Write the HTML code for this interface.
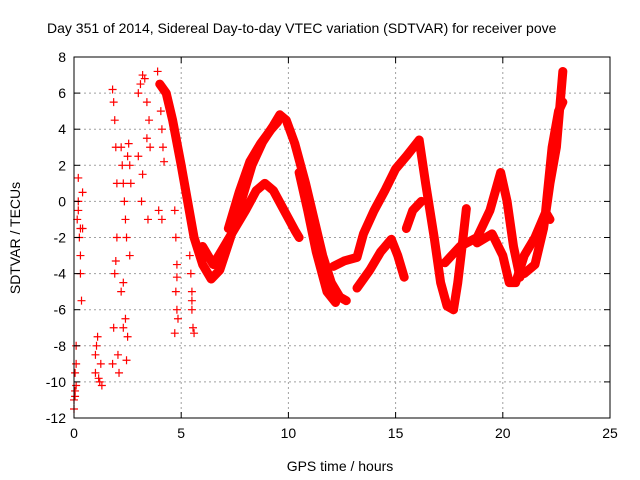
<!DOCTYPE html>
<html><head><meta charset="utf-8"><style>
body{margin:0;background:#fff}
svg{display:block;font-family:"Liberation Sans",sans-serif}
</style></head><body>
<svg id="chart" width="640" height="480" viewBox="0 0 640 480">
<text x="47" y="33" font-size="14">Day 351 of 2014, Sidereal Day-to-day VTEC variation (SDTVAR) for receiver pove</text>
<text x="340" y="471" font-size="14" text-anchor="middle">GPS time / hours</text>
<text transform="translate(20,238) rotate(-90)" font-size="14" text-anchor="middle">SDTVAR / TECUs</text>
<g id="grid"></g><g id="marks"></g><g id="axes"></g>
</svg>
<script>
const xTicks=[0,5,10,15,20,25];
const yTicks=[-12,-10,-8,-6,-4,-2,0,2,4,6,8];
const trackA_t=[4.0,4.3,4.6,5.0,5.3,5.6,6.0,6.4,6.8,7.3,7.8,8.3,8.8,9.3,9.6,9.9,10.3,10.8,11.2,11.6,12.0,12.4,12.7];
const trackA_v=[6.5,6.0,4.5,2.0,0.0,-2.0,-3.5,-4.3,-3.8,-2.0,0.0,2.0,3.3,4.2,4.8,4.5,3.2,1.0,-1.0,-3.0,-4.5,-5.3,-5.5];
const trackB_t=[6.0,6.5,7.0,7.5,8.0,8.5,8.9,9.3,9.8,10.3,10.5];
const trackB_v=[-2.5,-3.5,-2.5,-1.5,-0.5,0.6,1.0,0.6,-0.5,-1.6,-2.0];
const trackC_t=[7.2,7.7,8.2,8.7,9.2,9.5];
const trackC_v=[-1.5,0.5,2.2,3.2,4.0,4.4];
const trackD_t=[10.5,10.9,11.3,11.8,12.2];
const trackD_v=[1.6,-0.5,-2.8,-5.0,-5.6];
const trackE_t=[12.1,12.6,13.2,13.5,14.0,14.5,15.0,15.5,16.1,16.4,16.8,17.1,17.4,17.7];
const trackE_v=[-3.6,-3.3,-3.1,-1.8,-0.5,0.6,1.8,2.5,3.4,1.0,-2.0,-4.5,-5.8,-6.0];
const trackF_t=[13.2,13.8,14.3,14.8,15.1,15.4];
const trackF_v=[-4.8,-3.8,-2.8,-2.1,-3.0,-4.2];
const trackG_t=[15.5,15.8,16.2];
const trackG_v=[-1.5,-0.5,0.0];
const trackH_t=[17.7,17.9,18.1,18.3];
const trackH_v=[-6.0,-4.5,-2.5,-0.4];
const trackI_t=[17.3,18.0,18.8,19.4,19.9,20.2,20.5,20.8];
const trackI_v=[-3.4,-2.5,-2.0,-0.5,1.6,0.0,-2.5,-4.2];
const trackJ_t=[18.8,19.5,20.0,20.3,20.6,21.0,21.5,22.0,22.2];
const trackJ_v=[-2.3,-1.8,-3.0,-4.5,-4.5,-3.0,-2.0,-0.6,-1.0];
const trackK_t=[21.0,21.5,21.9,22.2,22.5,22.8];
const trackK_v=[-4.0,-3.5,-1.5,1.0,3.0,7.2];
const trackL_t=[22.0,22.3,22.6,22.8];
const trackL_v=[-0.5,3.0,5.0,5.5];
const scatter_t=[0.0,0.05,0.1,0.1,0.15,0.2,0.2,0.25,0.3,0.3,0.35,0.4,0.4,0.05,0.1,1.0,1.05,1.1,1.15,1.2,1.25,1.0,1.3,1.8,1.85,1.9,1.95,2.0,2.0,1.9,1.85,2.05,2.1,1.8,1.95,2.2,2.25,2.3,2.35,2.4,2.45,2.5,2.55,2.6,2.65,2.3,2.4,2.5,2.45,2.6,2.2,2.3,3.0,3.1,3.2,3.3,3.4,3.5,3.55,3.0,3.2,3.4,3.15,3.45,3.9,4.0,4.05,4.1,4.15,4.2,3.95,4.1,4.7,4.75,4.8,4.75,4.8,4.7,4.85,4.8,5.4,5.45,5.5,5.5,5.55,5.6,5.5,0.0,0.05,0.2,0.3];
const scatter_v=[-11.0,-10.5,-9.0,-8.0,-1.0,0.0,1.3,-2.0,-3.0,-4.0,-5.5,-1.5,0.5,-10.8,-10.2,-9.5,-8.0,-7.5,-9.8,-10.0,-9.0,-8.5,-10.2,6.2,5.5,4.5,3.0,1.0,-2.0,-4.0,-7.0,-8.5,-9.5,-9.0,-3.3,3.0,2.0,1.0,0.0,-1.0,-2.0,2.5,3.2,2.0,1.0,-4.5,-6.5,-7.5,-8.8,-3.0,-5.0,-7.0,6.0,6.5,7.0,6.8,5.5,4.5,3.0,2.5,1.5,3.5,0.0,-1.0,7.2,6.5,5.0,4.0,3.0,2.2,-0.5,-1.0,-0.5,-2.0,-3.5,-5.0,-6.0,-7.3,-6.5,-4.2,-3.0,-4.0,-5.0,-6.0,-7.0,-7.3,-5.5,-11.5,-9.5,-0.5,-1.5];

const L=74,R=610,T=57,B=418;
const xs=t=>L+(t-0)/(25-0)*(R-L);
const ys=v=>B-(v-(-12))/(8-(-12))*(B-T);
const NS='http://www.w3.org/2000/svg';
function mk(tag,attrs,parent){const e=document.createElementNS(NS,tag);for(const k in attrs)e.setAttribute(k,attrs[k]);parent.appendChild(e);return e;}
const grid=document.getElementById('grid'),marks=document.getElementById('marks'),axes=document.getElementById('axes');
xTicks.forEach(t=>{
  if(t>0&&t<25){const g=mk('line',{x1:xs(t),x2:xs(t),y1:T,y2:B,stroke:'#a0a0a0','stroke-dasharray':'2,3'},grid);
  
  }
  mk('line',{x1:xs(t),x2:xs(t),y1:B,y2:B-6,stroke:'#000'},axes);
  mk('line',{x1:xs(t),x2:xs(t),y1:T,y2:T+6,stroke:'#000'},axes);
  const lb=mk('text',{x:xs(t),y:B+20,'font-size':14,'text-anchor':'middle'},axes);lb.textContent=t;
  
  
});
yTicks.forEach(v=>{
  if(v>-12&&v<8){const g=mk('line',{x1:L,x2:R,y1:ys(v),y2:ys(v),stroke:'#a0a0a0','stroke-dasharray':'2,3'},grid);
  
  }
  mk('line',{x1:L,x2:L+6,y1:ys(v),y2:ys(v),stroke:'#000'},axes);
  mk('line',{x1:R,x2:R-6,y1:ys(v),y2:ys(v),stroke:'#000'},axes);
  const lb=mk('text',{x:L-8,y:ys(v)+5,'font-size':14,'text-anchor':'end'},axes);lb.textContent=v;
  
  
});
const frame=mk('rect',{x:L,y:T,width:R-L,height:B-T,fill:'none',stroke:'#000'},axes);


function plus(t,v,parent){
  const x=xs(t),y=ys(v);
  mk('path',{d:`M${x-4},${y}H${x+4}M${x},${y-4}V${y+4}`,stroke:'#f00','stroke-width':1.2},parent);
}
const tracks=[[trackA_t,trackA_v],[trackB_t,trackB_v],[trackC_t,trackC_v],[trackD_t,trackD_v],[trackE_t,trackE_v],[trackF_t,trackF_v],[trackG_t,trackG_v],[trackH_t,trackH_v],[trackI_t,trackI_v],[trackJ_t,trackJ_v],[trackK_t,trackK_v],[trackL_t,trackL_v]];
tracks.forEach(([tt,vv])=>{
  const g=mk('g',{},marks);
  
  
  const d=tt.map((t,i)=>(i?'L':'M')+xs(t)+','+ys(vv[i])).join('');
  mk('path',{d:d,fill:'none',stroke:'#f00','stroke-width':9,'stroke-linejoin':'round','stroke-linecap':'round'},g);
  tt.forEach((t,i)=>plus(t,vv[i],g));
});
const sg=mk('g',{},marks);


scatter_t.forEach((t,i)=>plus(t,scatter_v[i],sg));
</script>
</body></html>
